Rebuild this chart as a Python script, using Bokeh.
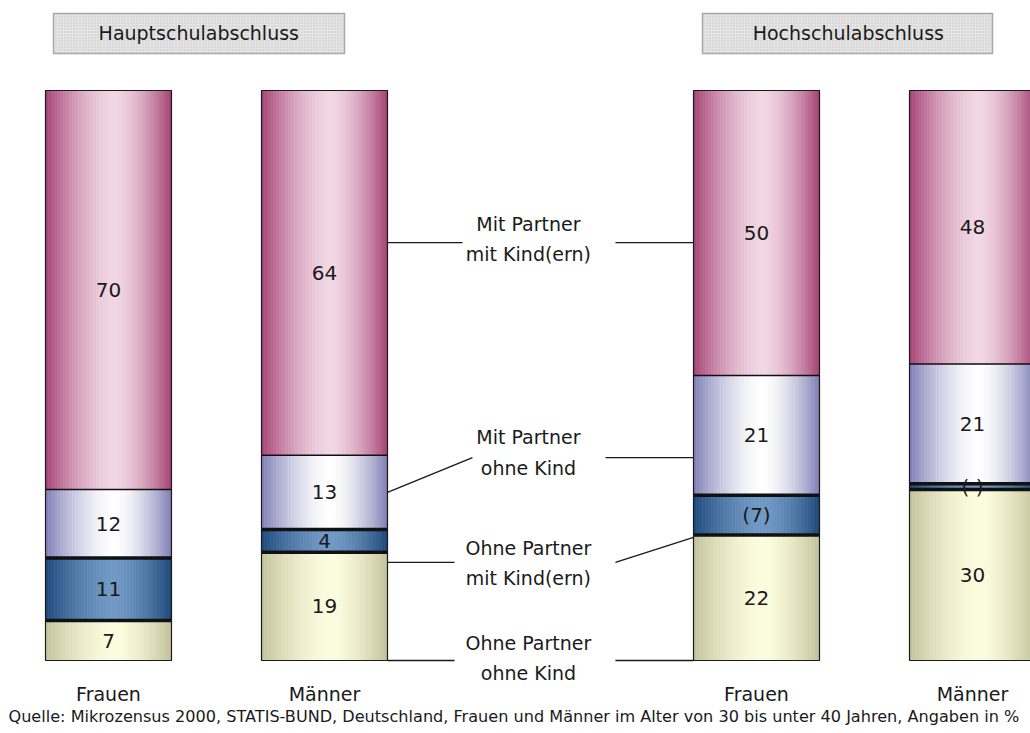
import numpy as np
from bokeh.plotting import figure
from bokeh.models import ColumnDataSource, Range1d
from bokeh.core.properties import value
from bokeh.embed import file_html
from bokeh.resources import INLINE

# ---------------- data ----------------
groups = ["Hauptschulabschluss", "Hauptschulabschluss", "Hochschulabschluss", "Hochschulabschluss"]
sexes = ["Frauen", "Männer", "Frauen", "Männer"]
series_names = ["Ohne Partner ohne Kind", "Ohne Partner mit Kind(ern)",
                "Mit Partner ohne Kind", "Mit Partner mit Kind(ern)"]
ohne_partner_ohne_kind = [7, 19, 22, 30]
ohne_partner_mit_kind = [11, 4, 7, 1]
mit_partner_ohne_kind = [12, 13, 21, 21]
mit_partner_mit_kind = [70, 64, 50, 48]
labels_oo = ["7", "19", "22", "30"]
labels_om = ["11", "4", "(7)", "( )"]
labels_mo = ["12", "13", "21", "21"]
labels_mm = ["70", "64", "50", "48"]
legend_lines = [["Ohne Partner", "ohne Kind"], ["Ohne Partner", "mit Kind(ern)"],
                ["Mit Partner", "ohne Kind"], ["Mit Partner", "mit Kind(ern)"]]
source_note = ("Quelle: Mikrozensus 2000, STATIS-BUND, Deutschland, Frauen und Männer im Alter "
               "von 30 bis unter 40 Jahren, Angaben in %")

series = [ohne_partner_ohne_kind, ohne_partner_mit_kind, mit_partner_ohne_kind, mit_partner_mit_kind]
series_labels = [labels_oo, labels_om, labels_mo, labels_mm]

# ---------------- layout / style ----------------
xpos = [0, 1, 3, 4]
bw = 0.5833
FONT = "DejaVu Sans"
edge_cols = [(194, 194, 156), (28, 72, 122), (126, 126, 182), (164, 66, 116)]
light_cols = [(252, 252, 222), (112, 152, 196), (255, 255, 255), (241, 214, 228)]
NSTRIP = 42
PEAK = 0.55

def grad(k, t):
    d = (PEAK - t) / PEAK if t < PEAK else (t - PEAK) / (1 - PEAK)
    f = 1 - d ** 1.6
    e, l = edge_cols[k], light_cols[k]
    c = [int(round(e[i] + (l[i] - e[i]) * f)) for i in range(3)]
    return "#%02x%02x%02x" % tuple(c)

p = figure(width=1030, height=733, x_range=Range1d(-0.5, 4.2685),
           y_range=Range1d(-12.807, 115.789), x_axis_type=None, y_axis_type=None,
           toolbar_location=None, output_backend="svg", min_border=0,
           outline_line_color=None, background_fill_color="white")
p.grid.visible = False

# gradient strips
L, R, B, T, C = [], [], [], [], []
for i, x in enumerate(xpos):
    cum = 0
    for k, s in enumerate(series):
        v = s[i]
        for j in range(NSTRIP):
            t = (j + 0.5) / NSTRIP
            l = x - bw / 2 + j * bw / NSTRIP
            L.append(l); R.append(l + bw / NSTRIP)
            B.append(cum); T.append(cum + v); C.append(grad(k, t))
        cum += v
p.quad(left="l", right="r", bottom="b", top="t", fill_color="c", line_color="c", line_width=0.6,
       source=ColumnDataSource(dict(l=L, r=R, b=B, t=T, c=C)))

# separators and outline
for i, x in enumerate(xpos):
    cum = 0
    for k, s in enumerate(series):
        cum += s[i]
        if k < 3:
            lw = 1.5 if k == 2 else 3.5
            p.segment(x0=[x - bw / 2], x1=[x + bw / 2], y0=[cum], y1=[cum], line_color="#111111", line_width=lw)
    p.quad(left=[x - bw / 2], right=[x + bw / 2], bottom=[0], top=[cum], fill_color=None,
           line_color="#1a1a1a", line_width=1.2)

# value labels
tx, ty, tt = [], [], []
for i, x in enumerate(xpos):
    cum = 0
    for k, s in enumerate(series):
        tx.append(x); ty.append(cum + s[i] / 2); tt.append(series_labels[k][i])
        cum += s[i]
p.text(x=tx, y=ty, text=tt, text_font=value(FONT), text_font_size="20px",
       text_align="center", text_baseline="middle", text_color="#1a1a1a")

# header boxes
hdr = [groups[0], groups[2]]
p.quad(left=[-0.2546, 2.75], right=[1.0926, 4.0926], bottom=[106.5, 106.5], top=[113.5, 113.5],
       fill_color="#e4e4e4", line_color="#a8a8a8", line_width=1.5,
       hatch_pattern=".", hatch_color="#c8c8c8", hatch_scale=3, hatch_weight=1)
p.text(x=[0.418, 3.425], y=[110, 110], text=hdr, text_font=value(FONT), text_font_size="19px",
       text_align="center", text_baseline="middle", text_color="#1a1a1a")

# category labels under bars
p.text(x=xpos, y=[-5.9] * 4, text=sexes, text_font=value(FONT), text_font_size="19px",
       text_align="center", text_baseline="middle", text_color="#1a1a1a")

# middle legend labels with leader lines
lab_x = 1.944
lab_y = [0.4, 17.1, 36.5, 73.9]
for k in range(4):
    p.text(x=[lab_x], y=[lab_y[k]], text=["\n".join(legend_lines[k])], text_font=value(FONT),
           text_font_size="19px", text_align="center", text_baseline="middle",
           text_line_height=1.38, text_color="#1a1a1a")

re_left = xpos[1] + bw / 2
le_right = xpos[2] - bw / 2
lines = [
    # (x0, y0, x1, y1)
    (re_left, 73.3, 1.639, 73.3), (2.347, 73.3, le_right, 73.3),
    (re_left, 29.5, 1.685, 35.6), (2.301, 35.6, le_right, 35.6),
    (re_left, 17.2, 1.602, 17.2), (2.347, 17.2, le_right, 21.6),
    (re_left, 0.0, 1.602, 0.0), (2.347, 0.0, le_right, 0.0),
]
p.segment(x0=[l[0] for l in lines], y0=[l[1] for l in lines], x1=[l[2] for l in lines],
          y1=[l[3] for l in lines], line_color="#1a1a1a", line_width=1.3)

# source note
p.text(x=[-0.463], y=[-9.9], text=[source_note], text_font=value(FONT), text_font_size="16.1px",
       text_align="left", text_baseline="middle", text_color="#1a1a1a")

open("out.html", "w").write(file_html(p, INLINE))
